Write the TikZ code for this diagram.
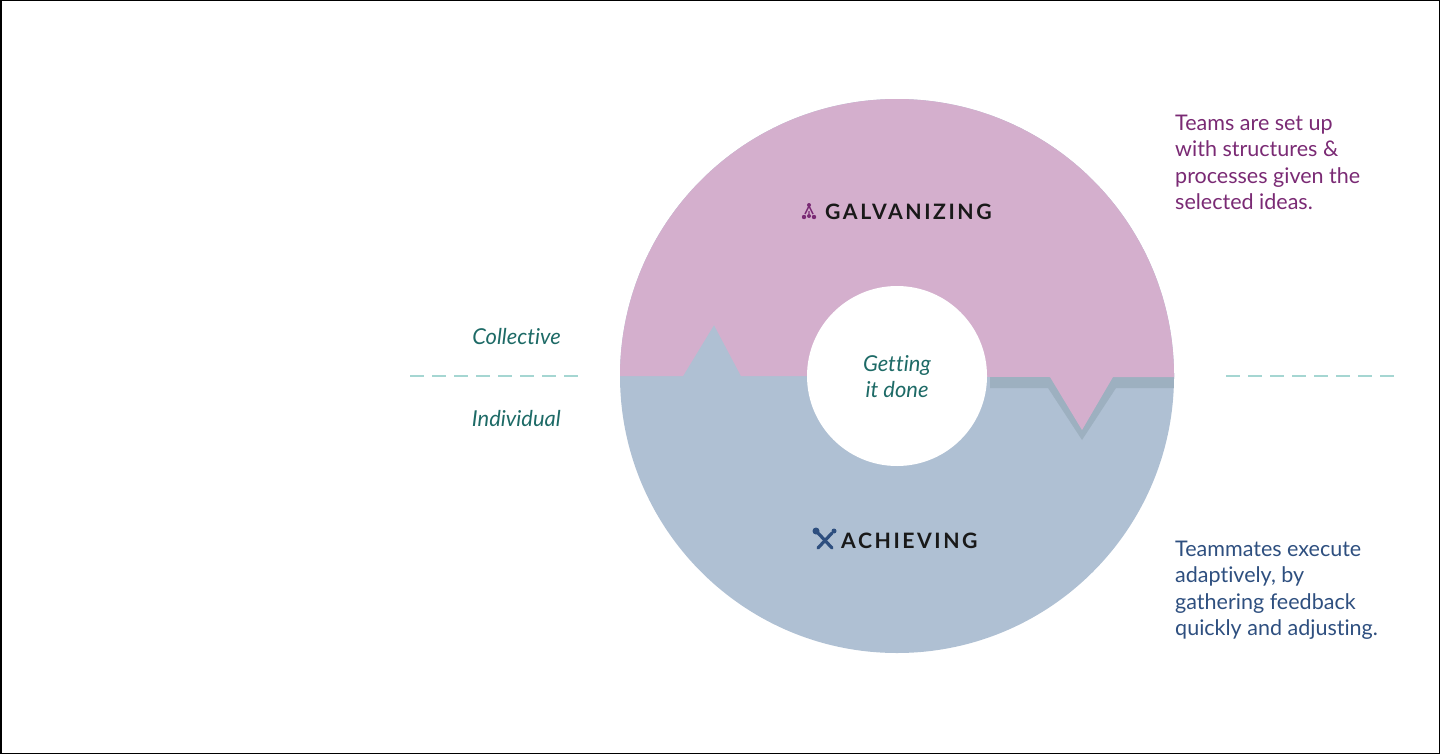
\documentclass[tikz,border=0pt]{standalone}
\usepackage{fontspec}
\setmainfont{Lato}[Ligatures=NoCommon]
\definecolor{pk}{HTML}{D4AFCD}
\definecolor{bl}{HTML}{AFC0D3}
\definecolor{sh}{HTML}{9DB0C0}
\definecolor{tl}{HTML}{1D6A66}
\definecolor{pu}{HTML}{7A2A74}
\definecolor{db}{HTML}{2E4F7F}
\definecolor{dashc}{HTML}{A5D6D2}
\tikzset{side/.style={align=left,anchor=north west,font=\fontsize{21.6}{26.4}\selectfont,inner sep=0},
 tag/.style={font=\fontsize{22}{26}\selectfont\itshape,text=tl,inner sep=0},
 ttl/.style={font=\fontsize{21.3}{24}\selectfont\bfseries\addfontfeatures{LetterSpace=12},text=black!90,inner sep=0},
 divider/.style={draw=dashc,line width=1.5bp,dash pattern=on 14bp off 8bp}}
\begin{document}
\begin{tikzpicture}[x=1bp,y=-1bp]
\useasboundingbox (0,0) rectangle (1440,754);
\draw[line width=1.5bp] (0.75,0.75) rectangle (1439.25,753.25);
\begin{scope}
\clip (897,376) circle[radius=277];
\fill[bl] (600,80) rectangle (1200,680);
\fill[sh] (990,370) -- (990,388) -- (1048,388) -- (1082,440) -- (1116,388) -- (1200,388) -- (1200,370) -- cycle;
\fill[pk] (600,80) -- (600,376) -- (683,376) -- (714,325) -- (741,376) -- (1050,377) -- (1082,430) -- (1113,377) -- (1200,377) -- (1200,80) -- cycle;
\end{scope}
\fill[white] (897,376) circle[radius=90];
\draw[divider] (410,376) -- (580,376);
\draw[divider] (1226,376) -- (1396,376);
\node[tag,anchor=east] (col) at (561,337) {Collective};
\node[tag,anchor=east] (ind) at (561,419) {Individual};
\node[tag,align=center,font=\fontsize{22}{26}\selectfont\itshape] (get) at (897,377) {Getting\\it done};
\node[ttl,anchor=west] (gal) at (825,212) {GALVANIZING};
\node[ttl,anchor=west] (ach) at (841,541) {ACHIEVING};
% galvanizing icon
\begin{scope}[pu,line width=1.4bp]
\draw (809,206) -- (805,214) (809,206) -- (813,214) (809,211) -- (809,214);
\fill (809,205) circle[radius=2] (804,217) circle[radius=2.2] (809,216) circle[radius=2] (814,217) circle[radius=2.2];
\end{scope}
% achieving icon
\begin{scope}[db,line cap=round]
\draw[line width=3.2bp] (818,533) -- (832,548);
\draw[line width=3.2bp] (832,533) -- (818,548);
\fill (816,531) circle[radius=3.5];
\fill (834,531) circle[radius=2.5];
\end{scope}
\node[side,text=pu] (t1) at (1175,115) {Teams are set up\\with structures \&\\processes given the\\selected ideas.};
\node[side,text=db] (t2) at (1175,541) {Teammates execute\\adaptively, by\\gathering feedback\\quickly and adjusting.};
\end{tikzpicture}
\end{document}
